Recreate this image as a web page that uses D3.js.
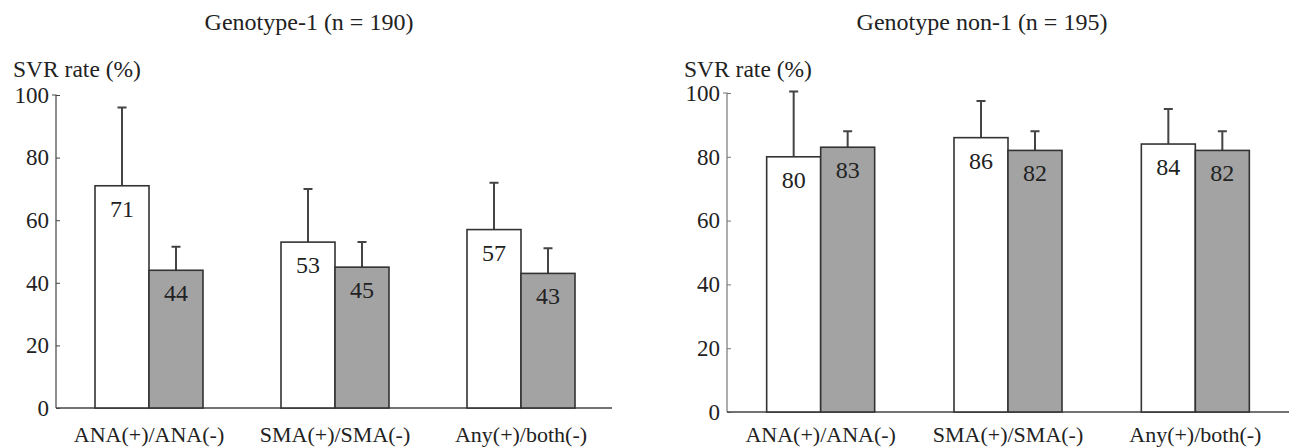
<!DOCTYPE html>
<html>
<head>
<meta charset="utf-8">
<script src="https://cdn.jsdelivr.net/npm/d3@7"></script>
<style>
  body { margin: 0; background: #fff; }
  svg text { font-family: "Liberation Serif", "Times New Roman", Times, "DejaVu Serif", serif !important; fill: #222; }
</style>
</head>
<body>
<div id="chart"></div>
<script>
// SVR rate by autoantibody status, two genotype panels
const width = 1289;
const height = 447;

const categories = ["ANA(+)/ANA(-)", "SMA(+)/SMA(-)", "Any(+)/both(-)"];
const yTicks = [0, 20, 40, 60, 80, 100];

// Genotype-1
const g1Pos = [71, 53, 57];
const g1PosErr = [25, 17, 15];
const g1Neg = [44, 45, 43];
const g1NegErr = [7.5, 8, 8];

// Genotype non-1
const gn1Pos = [80, 86, 84];
const gn1PosErr = [20.5, 11.5, 11];
const gn1Neg = [83, 82, 82];
const gn1NegErr = [5, 6, 6];

const svg = d3.select("#chart")
    .append("svg")
    .attr("width", width)
    .attr("height", height);

function drawPanel(opts) {
    const g = svg.append("g");

    const x = d3.scaleBand()
        .domain(categories)
        .range([opts.left, opts.right])
        .padding(0);

    const sub = d3.scaleBand()
        .domain(["pos", "neg"])
        .range([0, 108]);

    const y = d3.scaleLinear()
        .domain([0, 100])
        .range([opts.bottom, opts.top]);

    // title
    g.append("text")
        .attr("x", opts.titleX)
        .attr("y", 30)
        .attr("text-anchor", "middle")
        .style("font-size", "24px")
        .text(opts.title);

    g.append("text")
        .attr("x", opts.left - 43)
        .attr("y", 77)
        .style("font-size", "23.5px")
        .text("SVR rate (%)");

    // y axis, ticks pointing inward
    const yAxis = g.append("g")
        .attr("transform", `translate(${opts.left},0)`)
        .call(d3.axisLeft(y).tickValues(yTicks).tickSize(-4).tickPadding(7));
    yAxis.attr("font-family", null);
    yAxis.select(".domain").attr("stroke", opts.axisColor).attr("stroke-width", 1.2)
        .attr("d", `M-4,${y(100)}H0V${y(0)}`);
    yAxis.selectAll(".tick line").attr("stroke", opts.axisColor);
    yAxis.selectAll(".tick text")
        .style("font-size", "23px")
        .attr("fill", "#222");

    // x axis baseline
    g.append("line")
        .attr("x1", opts.left).attr("x2", opts.axisEnd)
        .attr("y1", y(0)).attr("y2", y(0))
        .attr("stroke", "#444").attr("stroke-width", 1.5);

    g.selectAll(".cat")
        .data(categories)
        .join("text")
        .attr("x", d => x(d) + x.bandwidth() / 2)
        .attr("y", 442)
        .attr("text-anchor", "middle")
        .style("font-size", "22px")
        .text(d => d);

    const rows = categories.map((c, i) => [
        { cat: c, key: "pos", v: opts.pos[i], e: opts.posErr[i] },
        { cat: c, key: "neg", v: opts.neg[i], e: opts.negErr[i] }
    ]).flat();

    const bx = d => x(d.cat) + x.bandwidth() / 2 - 54 + sub(d.key);

    // error bars (upper only)
    g.selectAll(".err")
        .data(rows)
        .join("path")
        .attr("d", d => {
            const cx = bx(d) + sub.bandwidth() / 2;
            return `M${cx},${y(d.v)}V${y(d.v + d.e)}M${cx - 4.5},${y(d.v + d.e)}H${cx + 4.5}`;
        })
        .attr("stroke", "#444")
        .attr("stroke-width", 2)
        .attr("fill", "none");

    g.selectAll(".bar")
        .data(rows)
        .join("rect")
        .attr("x", bx)
        .attr("y", d => y(d.v))
        .attr("width", sub.bandwidth())
        .attr("height", d => y(0) - y(d.v))
        .attr("fill", d => d.key === "pos" ? "#ffffff" : "#a3a3a3")
        .attr("stroke", "#333")
        .attr("stroke-width", 1.6);

    g.selectAll(".val")
        .data(rows)
        .join("text")
        .attr("x", d => bx(d) + sub.bandwidth() / 2)
        .attr("y", d => y(d.v) + 31)
        .attr("text-anchor", "middle")
        .style("font-size", "24px")
        .text(d => d.v);
}

drawPanel({
    title: "Genotype-1 (n = 190)", titleX: 309,
    left: 56, right: 614, axisEnd: 612, top: 95, bottom: 408,
    axisColor: "#444",
    pos: g1Pos, posErr: g1PosErr, neg: g1Neg, negErr: g1NegErr
});

drawPanel({
    title: "Genotype non-1 (n = 195)", titleX: 982,
    left: 727, right: 1289, axisEnd: 1289, top: 93, bottom: 412,
    axisColor: "#777",
    pos: gn1Pos, posErr: gn1PosErr, neg: gn1Neg, negErr: gn1NegErr
});
</script>
</body>
</html>
